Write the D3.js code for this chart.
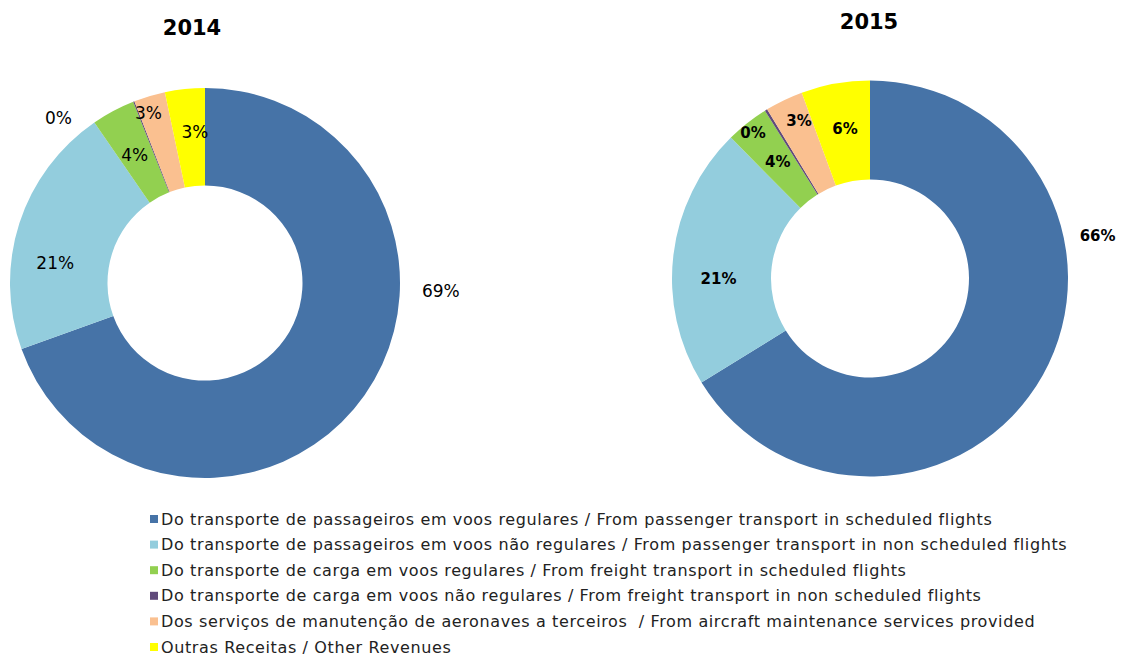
<!DOCTYPE html>
<html>
<head>
<meta charset="utf-8">
<script src="https://cdn.jsdelivr.net/npm/d3@7"></script>
<style>
  body { margin: 0; background: #fff; }
  svg { display: block; }
</style>
</head>
<body>
<div id="chart"></div>
<script>
// categories and series
var categories = [
  "Do transporte de passageiros em voos regulares / From passenger transport in scheduled flights",
  "Do transporte de passageiros em voos não regulares / From passenger transport in non scheduled flights",
  "Do transporte de carga em voos regulares / From freight transport in scheduled flights",
  "Do transporte de carga em voos não regulares / From freight transport in non scheduled flights",
  "Dos serviços de manutenção de aeronaves a terceiros  / From aircraft maintenance services provided",
  "Outras Receitas / Other Revenues"
];
var colors = ["#4673A7", "#93CDDD", "#92D050", "#604A7B", "#FAC090", "#FFFF00"];

var years = ["2014", "2015"];
var values2014 = [69.5, 20.9, 3.6, 0.1, 2.6, 3.3];
var values2015 = [66.2, 21.4, 3.5, 0.2, 3.1, 5.6];
var labels2014 = ["69%", "21%", "4%", "0%", "3%", "3%"];
var labels2015 = ["66%", "21%", "4%", "0%", "3%", "6%"];

// where excel left the data labels: [angle in degrees clockwise from top, radius / outer radius]
var labelPos2014 = [[92, 1.21], [277.6, 0.775], [331.3, 0.75], [318.3, 1.13], [341.6, 0.92], [356.2, 0.775]];
var labelPos2015 = [[79.3, 1.17], [270, 0.765], [321.6, 0.75], [321.3, 0.945], [335.8, 0.875], [350.5, 0.765]];

var width = 1121, height = 658;
var svg = d3.select("#chart").append("svg")
    .attr("width", width)
    .attr("height", height);

var charts = [
  {year: years[0], values: values2014, labels: labels2014, pos: labelPos2014,
   cx: 205, cy: 283, r: 195, titleX: 192, titleY: 35, bold: false, fs: 17},
  {year: years[1], values: values2015, labels: labels2015, pos: labelPos2015,
   cx: 870, cy: 278.5, r: 198, titleX: 869, titleY: 29, bold: true, fs: 15}
];

var pie = d3.pie().sort(null).value(function(d) { return d; });

charts.forEach(function(c) {
  var g = svg.append("g").attr("transform", "translate(" + c.cx + "," + c.cy + ")");
  var arc = d3.arc().innerRadius(c.r * 0.5).outerRadius(c.r);

  g.selectAll("path")
    .data(pie(c.values))
    .enter().append("path")
    .attr("d", arc)
    .attr("fill", function(d, i) { return colors[i]; });

  g.selectAll("text.lbl")
    .data(c.labels)
    .enter().append("text")
    .attr("class", "lbl")
    .attr("x", function(d, i) { return Math.sin(c.pos[i][0] * Math.PI / 180) * c.pos[i][1] * c.r; })
    .attr("y", function(d, i) { return -Math.cos(c.pos[i][0] * Math.PI / 180) * c.pos[i][1] * c.r; })
    .attr("dy", "0.35em")
    .attr("text-anchor", "middle")
    .style("font-family", "'DejaVu Sans', sans-serif")
    .style("font-size", c.fs + "px")
    .style("font-weight", c.bold ? "bold" : "normal")
    .style("fill", "#000")
    .text(function(d) { return d; });

  svg.append("text")
    .attr("x", c.titleX)
    .attr("y", c.titleY)
    .attr("text-anchor", "middle")
    .style("font-family", "'DejaVu Sans', sans-serif")
    .style("font-size", "21px")
    .style("font-weight", "bold")
    .text(c.year);
});

// legend
var legend = svg.append("g").attr("transform", "translate(150,519)");
var rows = legend.selectAll("g")
    .data(categories)
    .enter().append("g")
    .attr("transform", function(d, i) { return "translate(0," + (i * 25.6) + ")"; });

rows.append("rect")
    .attr("x", 0)
    .attr("y", -4)
    .attr("width", 8)
    .attr("height", 8)
    .attr("fill", function(d, i) { return colors[i]; });

rows.append("text")
    .attr("x", 11)
    .attr("dy", "0.35em")
    .style("font-family", "'DejaVu Sans', sans-serif")
    .style("font-size", "16px")
    .style("letter-spacing", "0.62px")
    .style("white-space", "pre")
    .style("fill", "#222")
    .text(function(d) { return d; });
</script>
</body>
</html>
